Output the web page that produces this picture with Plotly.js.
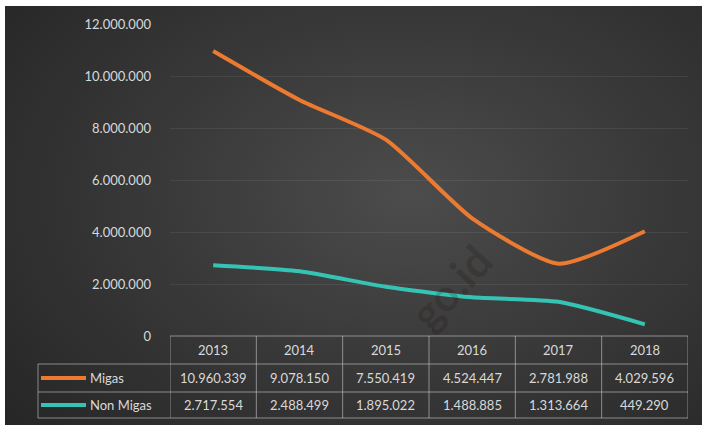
<!DOCTYPE html>
<html>
<head>
<meta charset="utf-8">
<script src="https://cdn.plot.ly/plotly-3.0.1.min.js"></script>
<style>
  html, body { margin: 0; padding: 0; background: #ffffff; }
  #bg { position: absolute; left: 5px; top: 6px; width: 697px; height: 419px;
        background: radial-gradient(ellipse 75% 85% at 58% 45%, #4c4c4c 0%, #3a3a3a 45%, #262626 100%); }
  #chart { position: absolute; left: 0; top: 0; width: 702px; height: 425px; }
</style>
</head>
<body>
<div id="bg"></div>
<div id="chart"></div>
<script>
// ---- data ----
const years = ['2013', '2014', '2015', '2016', '2017', '2018'];
const migas = [10960339, 9078150, 7550419, 4524447, 2781988, 4029596];
const nonMigas = [2717554, 2488499, 1895022, 1488885, 1313664, 449290];
const seriesNames = ['Migas', 'Non Migas'];
const yTicks = [0, 2000000, 4000000, 6000000, 8000000, 10000000, 12000000];

const orange = '#EC7A30';
const teal = '#35C4B4';
const txt = '#d9d9d9';
const gridCol = 'rgba(255,255,255,0.07)';
const tableCol = 'rgba(215,215,215,0.55)';

function fmt(n) { return String(n).replace(/\B(?=(\d{3})+(?!\d))/g, '.'); }

// layout geometry (pixels)
const W = 702, H = 425;
const L = 170, R = 688, T = 24, B = 336;
const pw = R - L, ph = B - T;
const px2x = p => (p - L) / pw;       // paper x
const py2y = p => (B - p) / ph;       // paper y
const rowY = [336, 364, 392, 418];

const xIdx = years.map((_, i) => i);

const traces = [
  { x: xIdx, y: migas, type: 'scatter', mode: 'lines', name: seriesNames[0],
    line: { color: orange, width: 4, shape: 'spline', smoothing: 0.6 }, hoverinfo: 'skip' },
  { x: xIdx, y: nonMigas, type: 'scatter', mode: 'lines', name: seriesNames[1],
    line: { color: teal, width: 4, shape: 'spline', smoothing: 0.6 }, hoverinfo: 'skip' }
];

const shapes = [];
const annotations = [];
const lineStyle = { color: tableCol, width: 1 };

// faint watermark
annotations.push({ xref: 'paper', yref: 'paper', x: px2x(450), y: py2y(342), text: '<b>go.id</b>', showarrow: false,
                   textangle: -47, font: { family: 'Lato, sans-serif', size: 44, color: 'rgba(20,0,0,0.16)' } });

// table horizontal lines
shapes.push({ type: 'line', xref: 'paper', yref: 'paper', x0: 0, x1: 1, y0: py2y(rowY[0]), y1: py2y(rowY[0]), line: lineStyle });
for (let r = 1; r < rowY.length; r++) {
  shapes.push({ type: 'line', xref: 'paper', yref: 'paper', x0: px2x(38), x1: 1, y0: py2y(rowY[r]), y1: py2y(rowY[r]), line: lineStyle });
}
// table vertical lines (category boundaries)
for (let i = 0; i <= years.length; i++) {
  shapes.push({ type: 'line', xref: 'x', yref: 'paper', x0: i - 0.5, x1: i - 0.5, y0: py2y(rowY[0]), y1: py2y(rowY[3]), line: lineStyle });
}
// left edge of legend column
shapes.push({ type: 'line', xref: 'paper', yref: 'paper', x0: px2x(38), x1: px2x(38), y0: py2y(rowY[1]), y1: py2y(rowY[3]), line: lineStyle });

// legend keys inside table
const keyCols = [orange, teal];
const rows = [migas, nonMigas];
for (let s = 0; s < 2; s++) {
  const yc = (rowY[s + 1] + rowY[s + 2]) / 2;
  shapes.push({ type: 'line', xref: 'paper', yref: 'paper', x0: px2x(41), x1: px2x(86), y0: py2y(yc), y1: py2y(yc),
                line: { color: keyCols[s], width: 4 } });
  annotations.push({ xref: 'paper', yref: 'paper', x: px2x(88), y: py2y(yc), xanchor: 'left', yanchor: 'middle',
                     text: seriesNames[s], showarrow: false, font: { family: 'Lato, sans-serif', size: 13, color: txt } });
  rows[s].forEach((v, i) => {
    annotations.push({ xref: 'x', yref: 'paper', x: i, y: py2y(yc), xanchor: 'center', yanchor: 'middle',
                       text: fmt(v), showarrow: false, font: { family: 'Lato, sans-serif', size: 13, color: txt } });
  });
}
// year header row
years.forEach((yr, i) => {
  annotations.push({ xref: 'x', yref: 'paper', x: i, y: py2y((rowY[0] + rowY[1]) / 2), xanchor: 'center', yanchor: 'middle',
                     text: yr, showarrow: false, font: { family: 'Lato, sans-serif', size: 13, color: txt } });
});

const layout = {
  width: W, height: H,
  margin: { l: L, r: W - R, t: T, b: H - B, pad: 0 },
  paper_bgcolor: 'rgba(0,0,0,0)',
  plot_bgcolor: 'rgba(0,0,0,0)',
  separators: ',.',
  showlegend: false,
  xaxis: { range: [-0.5, years.length - 0.5], showgrid: false, zeroline: false, showticklabels: false,
           showline: false, ticks: '', fixedrange: true },
  yaxis: { range: [0, 12000000], tickvals: yTicks, ticktext: yTicks.map(fmt), showgrid: true, gridcolor: gridCol,
           gridwidth: 1, zeroline: false, showline: false, ticks: '', ticklabelstandoff: 18,
           tickfont: { family: 'Lato, sans-serif', size: 13, color: txt }, fixedrange: true },
  shapes: shapes,
  annotations: annotations
};

Plotly.newPlot('chart', traces, layout, { staticPlot: true, displayModeBar: false });
</script>
</body>
</html>
